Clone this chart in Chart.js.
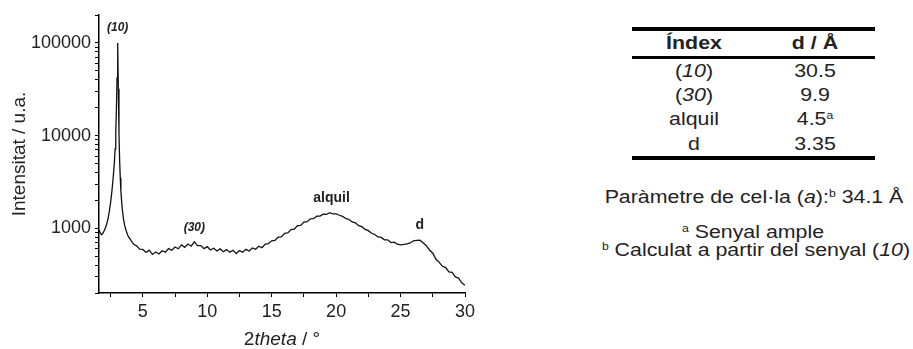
<!DOCTYPE html>
<html>
<head>
<meta charset="utf-8">
<script src="https://cdn.jsdelivr.net/npm/chart.js@4"></script>
<style>
  body { margin: 0; background: #fff; }
  #wrap { position: relative; width: 913px; height: 349px; overflow: hidden; font-family: "Liberation Sans", Arial, sans-serif; color: #222; }
  #chartBox { position: absolute; left: 0; top: 0; width: 480px; height: 349px; }
  .t { position: absolute; white-space: nowrap; transform: translate(-50%, -50%) scaleX(1.22); font-size: 17.5px; line-height: 1; }
  .b { font-weight: bold; }
  .rule { position: absolute; left: 632px; width: 243px; background: #000; }
  sup { font-size: 10px; vertical-align: 6px; line-height: 0; }
</style>
</head>
<body>
<div id="wrap">
  <div id="chartBox"><canvas id="xrd"></canvas></div>
  <div class="rule" style="top:27px;height:4px"></div>
  <div class="rule" style="top:56px;height:3px"></div>
  <div class="rule" style="top:156px;height:4px"></div>
</div>
<script>
// dades del difractograma
const twoTheta = [1.6, 1.7, 1.8, 1.9, 2.0, 2.1, 2.2, 2.3, 2.4, 2.5, 2.6, 2.7, 2.8, 2.85, 2.9, 2.95, 3.0, 3.05, 3.1, 3.15, 3.2, 3.25, 3.3, 3.35, 3.4, 3.5, 3.6, 3.7, 3.8, 3.9, 4.0, 4.1, 4.2, 4.3, 4.4,
  4.5, 4.75, 5, 5.25, 5.5, 5.75, 6, 6.25, 6.5, 6.75, 7, 7.25, 7.5, 7.75, 8, 8.25, 8.5, 8.75, 9, 9.25, 9.5, 9.75,
  10, 10.25, 10.5, 10.75, 11, 11.25, 11.5, 11.75, 12, 12.25, 12.5, 12.75, 13, 13.25, 13.5, 13.75, 14, 14.25, 14.5, 14.75,
  15, 15.25, 15.5, 15.75, 16, 16.25, 16.5, 16.75, 17, 17.25, 17.5, 17.75, 18, 18.25, 18.5, 18.75, 19, 19.25, 19.5, 19.75,
  20, 20.25, 20.5, 20.75, 21, 21.25, 21.5, 21.75, 22, 22.25, 22.5, 22.75, 23, 23.25, 23.5, 23.75, 24, 24.25, 24.5, 24.75,
  25, 25.25, 25.5, 25.75, 26, 26.25, 26.5, 26.75, 27, 27.25, 27.5, 27.75, 28, 28.25, 28.5, 28.75, 29, 29.25, 29.5, 29.75, 30];
const intensity = [960, 890, 850, 880, 940, 1010, 1110, 1270, 1520, 1900, 2500, 3500, 5300, 7200, 11000, 19000, 42000, 100000, 32000, 10500, 5400, 3500, 2500, 2000, 1650, 1250, 1060, 950, 860, 800, 770, 730, 700, 670, 655,
  650, 595, 590, 548, 580, 522, 555, 528, 572, 552, 603, 578, 628, 600, 662, 622, 675, 640, 712, 648, 650, 602,
  632, 582, 608, 568, 598, 558, 588, 552, 578, 532, 575, 552, 592, 568, 612, 592, 640, 618, 675, 682,
  732, 738, 800, 806, 882, 890, 968, 975, 1065, 1072, 1165, 1178, 1265, 1268, 1350, 1352, 1415, 1408, 1470, 1430,
  1428, 1380, 1342, 1275, 1242, 1170, 1142, 1065, 1040, 972, 942, 882, 856, 805, 795, 750, 750, 700, 708, 672,
  662, 668, 678, 694, 732, 738, 742, 698, 648, 582, 538, 462, 428, 388, 376, 338, 335, 298, 290, 258, 242];

// etiquetes dels pics
const peakLabels = ['(10)', '(30)', 'alquil', 'd'];
const peakX = [3.05, 9.0, 19.65, 26.5];
const peakY = [100000, 705, 1465, 745];

const yTicks = [200, 300, 400, 500, 600, 700, 800, 900, 1000, 2000, 3000, 4000, 5000, 6000, 7000, 8000, 9000,
  10000, 20000, 30000, 40000, 50000, 60000, 70000, 80000, 90000, 100000, 200000];
const yMajorTicks = [1000, 10000, 100000];
const xTicks = [2.5, 5, 7.5, 10, 12.5, 15, 17.5, 20, 22.5, 25, 27.5, 30];
const xMajorTicks = [5, 10, 15, 20, 25, 30];

// taula de la dreta
const tableHead = ['Índex', 'd / Å'];
const tableIndex = ['(<i>10</i>)', '(<i>30</i>)', 'alquil', 'd'];
const tableD = ['30.5', '9.9', '4.5<sup>a</sup>', '3.35'];

const wrap = document.getElementById('wrap');
function addText(html, x, y, cls) {
  const el = document.createElement('div');
  el.className = 't' + (cls ? ' ' + cls : '');
  el.innerHTML = html;
  el.style.left = x + 'px';
  el.style.top = y + 'px';
  wrap.appendChild(el);
}
addText(tableHead[0], 694, 44, 'b');
addText(tableHead[1], 815, 44, 'b');
const rowY = [72, 96, 120, 145];
tableIndex.forEach((s, i) => addText(s, 694, rowY[i]));
tableD.forEach((s, i) => addText(s, 815, rowY[i]));
addText('Paràmetre de cel·la (<i>a</i>):<sup>b</sup> 34.1 Å', 754, 198);
addText('<sup>a</sup> Senyal ample', 753, 233);
addText('<sup>b</sup> Calculat a partir del senyal (<i>10</i>)', 756, 251);

// textos dins del gràfic
const textPlugin = {
  id: 'xrdText',
  afterDraw(chart) {
    const { ctx, scales: { x, y } } = chart;
    ctx.save();
    ctx.fillStyle = '#222';
    ctx.textAlign = 'center';
    ctx.textBaseline = 'middle';
    peakLabels.forEach((lab, i) => {
      const italic = lab.startsWith('(');
      ctx.font = (italic ? 'italic bold 12px' : 'bold 14px') + ' "Liberation Sans", Arial, sans-serif';
      ctx.fillText(lab, x.getPixelForValue(peakX[i]), y.getPixelForValue(peakY[i]) - 15);
    });

    // títol eix y
    ctx.font = '19px "Liberation Sans", Arial, sans-serif';
    ctx.translate(20, (chart.chartArea.top + chart.chartArea.bottom) / 2);
    ctx.rotate(-Math.PI / 2);
    ctx.fillText('Intensitat / u.a.', 0, 0);
    ctx.setTransform(1, 0, 0, 1, 0, 0);

    // títol eix x: 2theta / °
    const parts = [['2', ''], ['theta', 'italic '], [' / °', '']];
    let w = 0;
    parts.forEach(p => { ctx.font = p[1] + '19px "Liberation Sans", Arial, sans-serif'; w += ctx.measureText(p[0]).width; });
    let px = 282 - w / 2;
    ctx.textAlign = 'left';
    parts.forEach(p => {
      ctx.font = p[1] + '19px "Liberation Sans", Arial, sans-serif';
      ctx.fillText(p[0], px, 340);
      px += ctx.measureText(p[0]).width;
    });
    ctx.restore();
  }
};

new Chart(document.getElementById('xrd'), {
  type: 'line',
  data: {
    datasets: [{
      data: twoTheta.map((t, i) => ({ x: t, y: intensity[i] })),
      borderColor: '#111',
      borderWidth: 1.3,
      pointRadius: 0,
      tension: 0,
      fill: false
    }]
  },
  options: {
    responsive: true,
    maintainAspectRatio: false,
    animation: false,
    layout: { padding: { top: 15, right: 15, left: 0, bottom: 0 } },
    plugins: { legend: { display: false }, tooltip: { enabled: false } },
    scales: {
      x: {
        type: 'linear',
        min: 1.6,
        max: 30,
        afterBuildTicks: s => { s.ticks = xTicks.map(v => ({ value: v })); },
        afterFit: s => { s.height = 56; },
        ticks: {
          autoSkip: false,
          maxRotation: 0,
          padding: 4,
          color: '#222',
          font: { size: 18, family: '"Liberation Sans", Arial, sans-serif' },
          callback: v => xMajorTicks.includes(v) ? String(v) : ''
        },
        grid: { drawOnChartArea: false, drawTicks: true, tickLength: 4, color: '#000' },
        border: { color: '#000', width: 1.5 }
      },
      y: {
        type: 'logarithmic',
        min: 200,
        max: 200000,
        afterBuildTicks: s => { s.ticks = yTicks.map(v => ({ value: v })); },
        afterFit: s => { s.width = 99; },
        ticks: {
          autoSkip: false,
          padding: 4,
          color: '#222',
          font: { size: 18, family: '"Liberation Sans", Arial, sans-serif' },
          callback: v => yMajorTicks.includes(v) ? String(v) : ''
        },
        grid: { drawOnChartArea: false, drawTicks: true, tickLength: 4, color: '#000' },
        border: { color: '#000', width: 1.5 }
      }
    }
  },
  plugins: [textPlugin]
});
</script>
</body>
</html>
